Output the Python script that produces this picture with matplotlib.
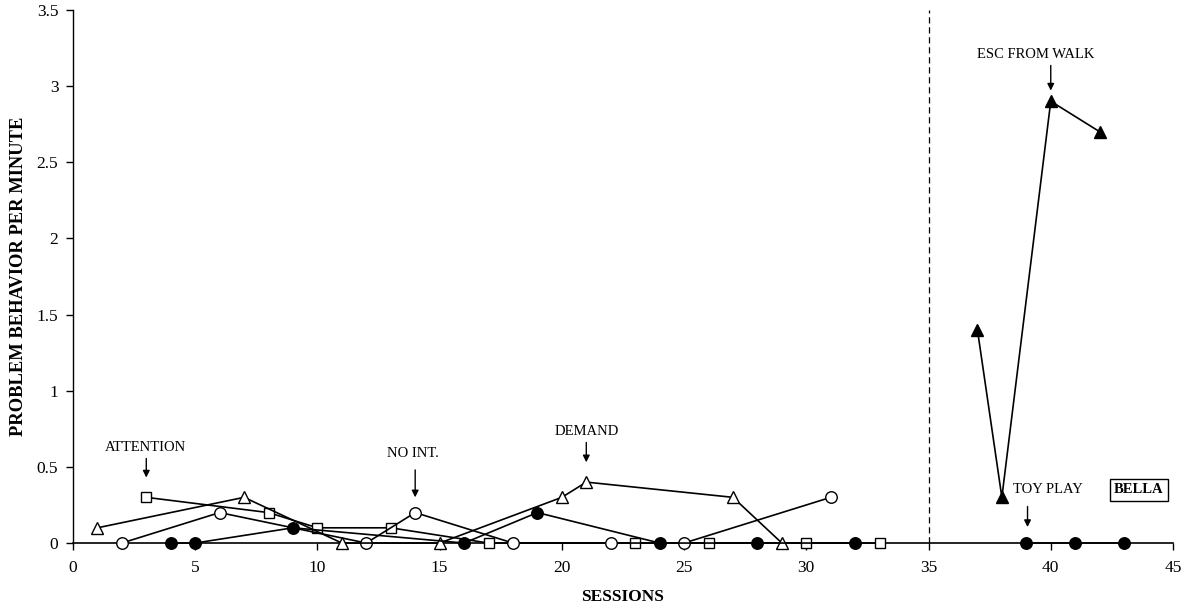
import matplotlib
matplotlib.use("Agg")
import matplotlib.pyplot as plt

# Bella - functional analysis data
att_x = [3, 8, 10, 13, 17, 23, 26, 30, 33]
att_y = [0.3, 0.2, 0.1, 0.1, 0, 0, 0, 0, 0]

noint_x = [2, 6, 12, 14, 18, 22, 25, 31]
noint_y = [0, 0.2, 0, 0.2, 0, 0, 0, 0.3]

demand_x = [1, 7, 11, 15, 20, 21, 27, 29]
demand_y = [0.1, 0.3, 0, 0, 0.3, 0.4, 0.3, 0]

toy_x = [4, 5, 9, 16, 19, 24, 28, 32]
toy_y = [0, 0, 0.1, 0, 0.2, 0, 0, 0]

toy2_x = [39, 41, 43]
toy2_y = [0, 0, 0]

esc_x = [37, 38, 40, 42]
esc_y = [1.4, 0.3, 2.9, 2.7]

phase_line = 35

plt.rcParams['font.family'] = ['Liberation Serif', 'DejaVu Serif']

fig = plt.figure(figsize=(11.9, 6.15), dpi=100)
ax = fig.add_axes([0.0613, 0.117, 0.9244, 0.867])

lw = 1.2
ms = 8.3
ax.plot(att_x, att_y, color='black', lw=lw, marker='s', ms=ms - 0.8, mfc='white', mec='black', mew=1.0, zorder=3)
ax.plot(noint_x, noint_y, color='black', lw=lw, marker='o', ms=ms, mfc='white', mec='black', mew=1.0, zorder=3)
ax.plot(demand_x, demand_y, color='black', lw=lw, marker='^', ms=ms + 0.5, mfc='white', mec='black', mew=1.0, zorder=3)
ax.plot(toy_x, toy_y, color='black', lw=lw, marker='o', ms=ms, mfc='black', mec='black', zorder=3)
ax.plot(toy2_x, toy2_y, color='black', lw=lw, marker='o', ms=ms, mfc='black', mec='black', zorder=3)
ax.plot(esc_x, esc_y, color='black', lw=lw, marker='^', ms=ms + 0.5, mfc='black', mec='black', zorder=3)

ax.axvline(phase_line, color='black', lw=0.9, ls=(0, (5, 3)), zorder=1)

# condition labels with arrows
fs = 10.5
arrow = dict(arrowstyle='-|>', color='black', lw=1.0, mutation_scale=10, shrinkA=0, shrinkB=0)
ax.annotate('', xy=(3, 0.43), xytext=(3, 0.555), arrowprops=arrow)
ax.text(2.95, 0.63, 'ATTENTION', ha='center', va='center', fontsize=fs)
ax.annotate('', xy=(14, 0.30), xytext=(14, 0.48), arrowprops=arrow)
ax.text(13.9, 0.59, 'NO INT.', ha='center', va='center', fontsize=fs)
ax.annotate('', xy=(21, 0.53), xytext=(21, 0.66), arrowprops=arrow)
ax.text(21, 0.73, 'DEMAND', ha='center', va='center', fontsize=fs)
ax.annotate('', xy=(40, 2.97), xytext=(40, 3.135), arrowprops=arrow)
ax.text(39.4, 3.21, 'ESC FROM WALK', ha='center', va='center', fontsize=fs)
ax.annotate('', xy=(39.05, 0.105), xytext=(39.05, 0.24), arrowprops=arrow)
ax.text(39.9, 0.35, 'TOY PLAY', ha='center', va='center', fontsize=fs)
ax.text(43.6, 0.35, 'BELLA', ha='center', va='center', fontsize=fs, fontweight='bold',
        bbox=dict(boxstyle='square,pad=0.3', fc='white', ec='black', lw=1.0))

ax.set_xlim(0, 45)
ax.set_ylim(0, 3.5)
ax.set_xticks(range(0, 46, 5))
ax.set_yticks([0, 0.5, 1, 1.5, 2, 2.5, 3, 3.5])
ax.set_yticklabels(['0', '0.5', '1', '1.5', '2', '2.5', '3', '3.5'])
ax.tick_params(direction='out', length=5, width=1.0, labelsize=12.5, colors='black')
ax.tick_params(axis='x', pad=7.5)
ax.tick_params(axis='y', pad=5.5)
ax.spines['top'].set_visible(False)
ax.spines['right'].set_visible(False)
ax.spines['left'].set_linewidth(1.0)
ax.spines['bottom'].set_linewidth(1.2)

ax.set_xlabel('SESSIONS', fontsize=12.5, fontweight='bold', labelpad=9)
ax.set_ylabel('PROBLEM BEHAVIOR PER MINUTE', fontsize=13.3, fontweight='bold', labelpad=7)

for line in ax.lines:
    line.set_clip_on(False)

fig.savefig('out.png', dpi=100)
